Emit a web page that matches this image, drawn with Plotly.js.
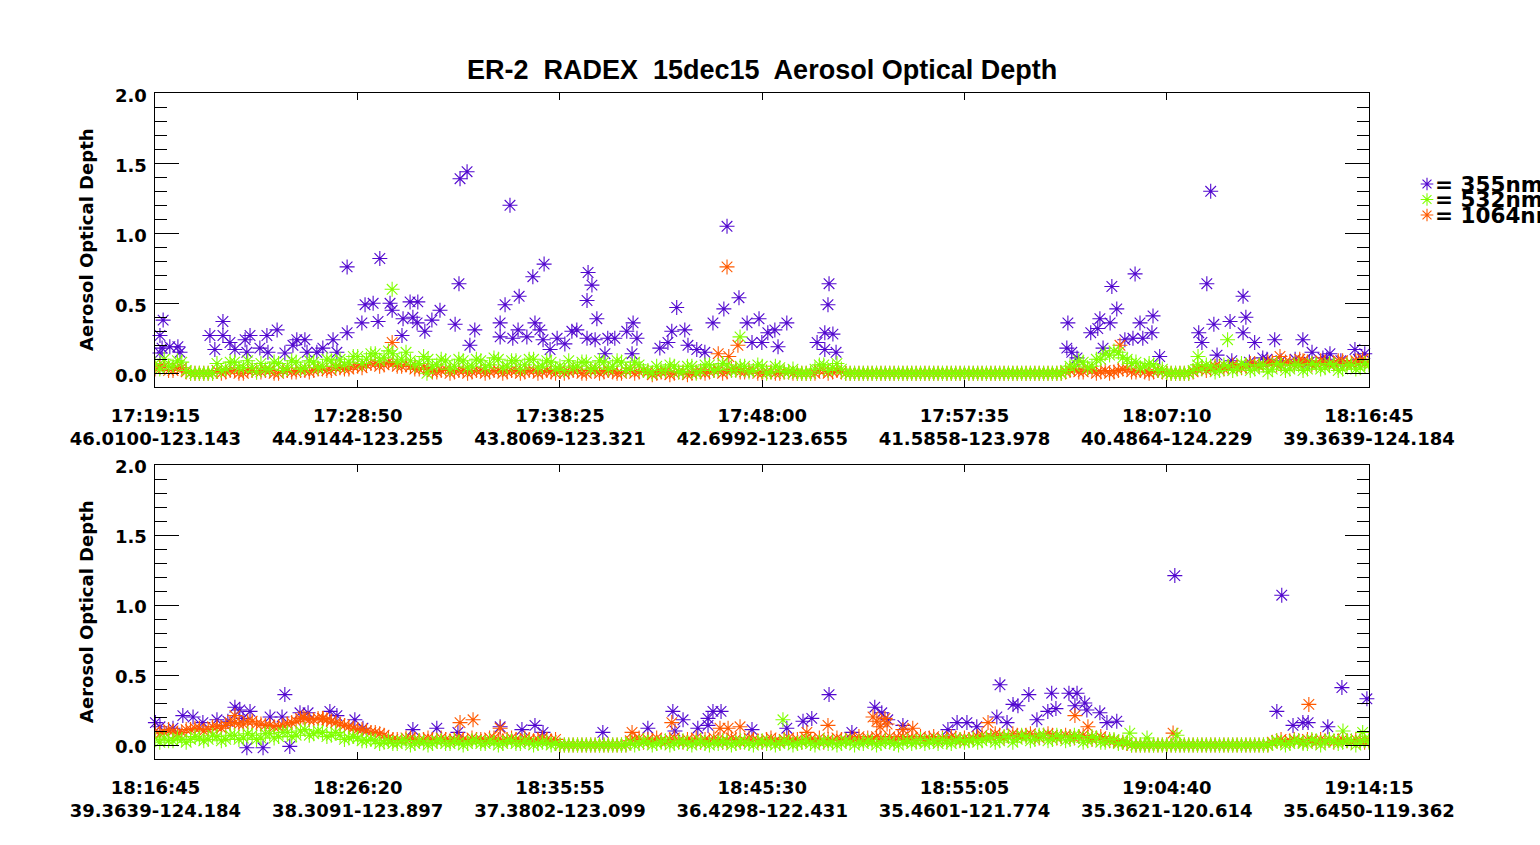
<!DOCTYPE html>
<html><head><meta charset="utf-8">
<script src="https://cdn.plot.ly/plotly-3.0.1.min.js"></script>
<style>html,body{margin:0;padding:0;background:#fff;overflow:hidden}</style>
</head><body><div id="chart" style="width:1540px;height:845px"></div>
<script>
// ---------------- DATA ----------------
// Panel spans: top 17:19:15 - 18:16:45, bottom 18:16:45 - 19:14:15 (3450 s each)
const PANEL_SPAN_S = 3450;
const TICK_STEP_S = 575;
const GRID_STEP_S = 12.5;   // sampling interval of the 532/1064 band series (s after panel start)

const timeTicksTop = ["17:19:15","17:28:50","17:38:25","17:48:00","17:57:35","18:07:10","18:16:45"];
const posTicksTop  = ["46.0100-123.143","44.9144-123.255","43.8069-123.321","42.6992-123.655","41.5858-123.978","40.4864-124.229","39.3639-124.184"];
const timeTicksBot = ["18:16:45","18:26:20","18:35:55","18:45:30","18:55:05","19:04:40","19:14:15"];
const posTicksBot  = ["39.3639-124.184","38.3091-123.897","37.3802-123.099","36.4298-122.431","35.4601-121.774","35.3621-120.614","35.6450-119.362"];
const yTickVals = [0, 0.5, 1.0, 1.5, 2.0];
const yTickText = ["0.0","0.5","1.0","1.5","2.0"];
const wavelengths = ["355nm","532nm","1064nm"];

// 532 nm AOD, top panel, one value every GRID_STEP_S seconds
const aod532Top = [
0.07,0.03,0.10,0.05,0.05,0.09,0.08,0.02,
0,0,0,0,0,0,
0.07,0.02,0.03,0.08,0.08,0.04,0.04,0.09,0.04,0.01,0.07,0.03,0.03,0.08,0.07,0.02,0.04,0.09,0.08,0.03,0.04,0.09,0.08,0.04,0.05,0.10,0.09,0.05,
0.10,0.06,0.08,0.12,0.12,0.07,0.10,0.14,0.14,0.09,0.11,0.16,0.14,0.08,0.10,0.15,0.09,0.06,0.07,0.12,
0.10,0.05,0.06,0.10,0.09,0.03,0.05,0.10,0.09,0.04,0.05,0.10,0.09,0.04,0.06,0.11,0.10,0.04,0.05,0.09,0.09,0.03,0.06,0.10,0.10,0.04,0.05,0.09,0.08,0.03,
0.05,0.02,0.09,0.04,0.05,0.08,0.08,0.03,0.04,0.09,0.08,0.03,0.05,0.09,0.08,0.02,0.04,0.08,0.06,0.02,
0.02,0.00,0.05,0.02,0.02,0.06,0.05,0.01,0.01,0.05,0.05,0.00,0.02,0.06,0.06,0.02,0.03,0.07,0.06,0.02,0.02,0.05,0.05,0.01,0.02,0.06,0.05,0.00,0.01,0.05,0.04,0.01,0.01,0.03,
0,0,0,0,
0.03,0.06,0.06,0.02,0.04,0.07,0.03,0.00,
0,0,0,0,0,0,0,0,0,0,0,0,0,0,0,0,0,0,0,0,0,0,0,0,0,0,0,0,0,0,0,0,0,0,0,0,0,0,0,0,0,0,0,0,0,0,0,0,0,
0.02,0.05,0.05,0.09,0.08,0.04,0.05,0.10,0.10,0.14,0.13,0.16,0.15,0.11,0.10,0.07,0.08,0.04,0.05,0.07,0.06,0.02,0.03,0.00,0.00,0.00,
0,0,0,0.02,0.06,
0.03,0.06,0.05,0.01,0.02,0.06,0.05,0.02,0.03,0.07,0.06,0.02,0.03,0.06,0.06,0.01,0.03,0.07,0.06,0.02,0.03,0.06,0.06,0.02,0.03,0.07,0.06,0.03,0.04,0.07,0.06,0.02,0.03,0.06,0.06,0.03,0.04,0.07,0.06];
// 1064 nm AOD, top panel
const aod1064Top = [
0.03,0.05,0.05,0.02,0.02,0.04,0.04,0.01,
0,0,0,0,0,0,
0.02,0.00,0.01,0.02,0.02,0.00,0.00,0.02,0.02,0.01,0.01,0.02,0.02,0.00,0.00,0.02,0.02,0.01,0.01,0.02,0.02,0.01,0.02,0.03,0.03,0.02,0.02,0.04,
0.04,0.03,0.03,0.05,0.05,0.04,0.06,0.07,0.07,0.05,0.06,0.08,0.07,0.05,0.05,0.06,0.05,0.03,0.03,0.04,
0.03,0.01,0.01,0.02,0.03,0.00,0.01,0.02,0.02,0.00,0.01,0.02,0.02,0.00,0.01,0.02,0.02,0.00,0.01,0.02,0.02,0.00,0.01,0.02,0.02,0.00,0.01,0.02,0.01,0.00,
0.02,0.00,0.01,0.02,0.02,0.00,0.00,0.02,0.02,0.00,0.01,0.02,0.01,0.00,0.00,0.02,0.02,0.00,0.01,0.02,
0.01,-0.01,0.00,0.01,0.01,-0.01,0.00,0.01,0.01,-0.01,0.00,0.01,0.01,0.00,0.01,0.02,0.02,0.00,0.01,0.03,0.03,0.01,0.01,0.02,0.02,0.00,0.00,0.01,0.01,0.00,0.00,0.01,0.01,0.00,
0,0,0,0,
0.00,0.02,0.02,0.00,0.01,0.02,0.01,0.00,
0,0,0,0,0,0,0,0,0,0,0,0,0,0,0,0,0,0,0,0,0,0,0,0,0,0,0,0,0,0,0,0,0,0,0,0,0,0,0,0,0,0,0,0,0,0,0,0,0,
0.01,0.02,0.03,0.01,0.01,0.03,0.02,0.00,0.01,0.02,0.00,0.01,0.02,0.03,0.03,0.01,0.01,0.02,0.01,0.00,0.01,0.02,0.01,0.00,0.00,0.00,
0,0,0,0.01,0.03,
0.04,0.02,0.03,0.05,0.05,0.03,0.04,0.06,0.05,0.04,0.05,0.07,0.07,0.05,0.06,0.08,0.08,0.06,0.06,0.08,0.08,0.06,0.07,0.09,0.08,0.06,0.07,0.09,0.08,0.06,0.07,0.09,0.09,0.07,0.07,0.09,0.08,0.07,0.08];
// 532 nm AOD, bottom panel
const aod532Bot = [
0.04,0.02,0.05,0.03,0.03,0.05,0.04,0.02,
0.04,0.06,0.05,0.03,0.04,0.07,0.06,0.03,0.04,0.07,0.07,0.04,0.05,0.08,0.07,0.04,
0.05,0.08,0.08,0.05,0.06,0.09,0.09,0.06,0.07,0.10,0.11,0.07,0.08,0.10,0.09,0.06,0.07,0.09,
0.07,0.04,0.05,0.06,0.05,0.03,0.03,0.04,0.03,0.01,0.02,
0.03,0.01,0.01,0.03,0.03,0.00,0.01,0.03,0.02,0.00,0.01,0.03,0.03,0.01,0.01,0.03,0.02,0.00,0.01,0.03,0.03,0.01,0.01,0.03,0.02,0.00,0.01,0.03,0.03,0.01,0.01,0.03,0.02,0.00,0.01,0.02,0.02,0.00,0.01,
0,0,0,0,0,0,0,0,0,0,0,0,0,0,0,0,
0.02,0.00,0.01,0.03,0.02,0.00, 0.01,0.02,0.03,0.00,0.01,0.02, 0.03,0.01,0.00,0.02,0.03,0.01, 0.00,0.02,0.01,0.03,0.02,0.00, 0.01,0.03,0.02,0.01,0.00,0.02, 0.03,0.01,0.02,0.00,0.01,0.03, 0.02,0.00,0.01,0.02,0.03,0.01, 0.00,0.02,0.03,0.01,0.02,0.00, 0.01,0.03,0.02,0.00,0.02,0.01, 0.03,0.02,0.00,0.01,0.03,0.02, 0.01,0.00,0.02,0.03,0.01,0.02, 0.04,0.01,0.02,0.03,0.01,0.04, 0.02,0.01,0.03,0.04,0.02,0.03,
0.04,0.02,0.03,0.05,0.05,0.02,0.03,0.06,0.06,0.02,0.04,0.07,0.06,0.03,0.04,0.07,0.07,0.03,0.04,0.07,0.06,0.03,0.04,0.07,0.06,0.02,0.03,0.06,0.05,0.02,0.02,0.04,0.04,0.01,0.02,0.02,
0,0,0,0,0,0,0,0,0,0,0,0,0,0,0,0,0,0,0,0,0,0,0,0,0,0,0,0,0,0,0,0,
0.01,0.03,0.02,0.00,0.01,0.03,0.03,0.01,0.01,0.04,0.03,0.00,0.02,0.04,0.03,0.01,0.02,0.03,0.03,0.00,0.02,0.04,0.02];
// 1064 nm AOD, bottom panel
const aod1064Bot = [
0.10,0.08,0.09,0.11,0.10,0.08,0.09,0.11,
0.11,0.12,0.12,0.10,0.11,0.13,0.13,0.12,0.14,0.16,0.16,0.15,0.15,0.17,0.17,0.15,
0.15,0.14,0.14,0.13,0.13,0.14,0.15,0.16,0.17,0.19,0.19,0.18,0.18,0.19,0.19,0.18,0.17,0.16,
0.15,0.14,0.13,0.12,0.11,0.11,0.10,0.09,0.09,0.08,0.07,
0.05,0.04,0.04,0.03,0.05,0.05,0.04,0.03,0.04,0.05,0.04,0.03,0.05,0.04,0.03,0.04,0.05,0.04,0.03,0.05,0.04,0.04,0.03,0.05,0.05,0.04,0.03,0.04,0.05,0.04,0.03,0.05,0.04,0.03,0.04,0.05,0.04,0.03,0.04,
0,0,0,0,0,0,0,0,0,0,0,0,0,0,0,0,
0.03,0.04,0.05,0.02,0.04,0.03, 0.05,0.03,0.02,0.04,0.05,0.03, 0.02,0.04,0.03,0.05,0.02,0.04, 0.03,0.05,0.04,0.02,0.03,0.05, 0.04,0.02,0.03,0.05,0.04,0.03, 0.02,0.04,0.05,0.03,0.02,0.04, 0.05,0.03,0.04,0.02,0.05,0.04, 0.03,0.05,0.02,0.04,0.03,0.05, 0.04,0.03,0.05,0.04,0.06,0.03, 0.05,0.04,0.06,0.05,0.03,0.06, 0.04,0.05,0.06,0.04,0.05,0.03, 0.06,0.04,0.05,0.06,0.03,0.05, 0.04,0.06,0.05,0.03,0.05,0.04,
0.05,0.06,0.07,0.05,0.06,0.08,0.07,0.05,0.06,0.08,0.07,0.06,0.07,0.08,0.06,0.05,0.07,0.08,0.07,0.05,0.06,0.07,0.06,0.05,0.06,0.07,0.05,0.04,0.05,0.06,0.04,0.03,0.03,0.02,0.02,0.01,
0,0,0,0,0,0,0,0,0,0,0,0,0,0,0,0,0,0,0,0,0,0,0,0,0,0,0,0,0,0,0,0,
0.02,0.03,0.04,0.02,0.03,0.04,0.03,0.02,0.04,0.03,0.02,0.04,0.03,0.04,0.02,0.03,0.04,0.03,0.02,0.04,0.03,0.02,0.03];

// Individual (off-grid) samples: time in seconds after panel start, AOD value
const t532TopExtra   = [673, 1662, 3048, 2964, 772];
const aod532TopExtra = [0.60, 0.26, 0.24, 0.12, 0.00];
const t1064TopExtra   = [1625, 1656, 1600, 1630, 673, 2742, 3197, 3253, 3432];
const aod1064TopExtra = [0.76, 0.20, 0.14, 0.12, 0.22, 0.20, 0.12, 0.10, 0.10];
const t532BotExtra   = [1784, 2770, 2819, 2904, 3376, 3432];
const aod532BotExtra = [0.18, 0.085, 0.05, 0.07, 0.10, 0.09];
const t1064BotExtra   = [226,420,477,866,903,980,1355,1468,1605,1628,1662,1852,1912,2040,2051,2060,2074,2080,2125,2153,2367,2614,2651,3279,2893];
const aod1064BotExtra = [0.21,0.20,0.19,0.16,0.18,0.12,0.09,0.16,0.12,0.12,0.13,0.09,0.14,0.20,0.17,0.13,0.19,0.15,0.11,0.12,0.16,0.21,0.13,0.29,0.085];

// 355 nm samples, top panel (s after 17:19:15)
const t355Top = [22,13,19,41,64,70,13,155,192,192,169,212,226,255,269,260,297,317,320,346,368,391,402,425,431,459,476,505,516,545,545,587,596,619,633,638,667,673,701,704,724,732,746,744,766,786,809,661,852,863,866,886,908,894,1008,994,1034,1073,1105,980,980,1016,1031,1056,1079,1093,1102,1122,1142,1164,1184,1198,1227,1230,1241,1227,1255,1250,1286,1306,1340,1358,1369,1355,1278,1434,1457,1468,1482,1505,1514,1539,1562,1585,1616,1659,1625,1682,1716,1741,1761,1795,1696,1724,1770,1915,1912,1903,1926,1881,1903,1935,2594,2591,2605,2620,2659,2679,2685,2714,2719,2733,2785,2799,2836,2833,2807,2779,2756,2694,2855,3000,2989,3092,3100,3055,3009,2966,2975,3092,3125,3182,3262,3018,3148,3288,3339,3319,3410,3438,3060,3110,3160,3200,3240,3280,3330,3370,3420];
const aod355Top = [0.38,0.27,0.18,0.19,0.19,0.15,0.145,0.27,0.37,0.27,0.17,0.22,0.17,0.24,0.27,0.15,0.18,0.27,0.15,0.31,0.145,0.20,0.24,0.24,0.15,0.15,0.18,0.24,0.15,0.29,0.76,0.36,0.49,0.50,0.37,0.82,0.50,0.45,0.27,0.39,0.51,0.40,0.51,0.36,0.30,0.38,0.45,2.04,0.35,0.64,1.39,1.44,0.31,0.20,1.20,0.49,0.55,0.69,0.78,0.36,0.26,0.25,0.31,0.26,0.36,0.31,0.24,0.17,0.25,0.21,0.30,0.31,0.25,0.72,0.63,0.52,0.39,0.24,0.25,0.25,0.30,0.36,0.25,0.14,0.14,0.18,0.22,0.30,0.47,0.31,0.20,0.17,0.15,0.36,0.46,0.54,1.05,0.36,0.39,0.29,0.31,0.36,0.22,0.22,0.19,0.64,0.49,0.29,0.28,0.22,0.17,0.15,0.36,0.18,0.15,0.11,0.29,0.32,0.39,0.36,0.62,0.46,0.71,0.36,0.41,0.29,0.25,0.25,0.24,0.18,0.12,1.30,0.64,0.55,0.40,0.37,0.35,0.29,0.22,0.29,0.22,0.24,0.24,0.13,0.11,0.15,0.14,0.11,0.17,0.14,0.09,0.08,0.10,0.09,0.10,0.08,0.10,0.09,0.10];
// 355 nm samples, bottom panel (s after 18:16:45)
const t355Bot = [368,226,78,107,175,206,240,269,249,326,360,411,434,496,516,567,13,0,50,135,590,732,800,980,1079,1042,1102,860,260,306,382,1272,1400,1471,1500,1477,1542,1571,1585,1608,1571,1696,1915,1795,1841,1866,1980,2045,2065,2082,2125,2253,2279,2307,2335,2401,2483,2548,2597,2620,2438,2452,2560,2642,2648,2685,2614,2537,2392,2506,2421,2733,2705,2898,3202,3373,3444,3188,3234,3262,3277,3333];
const aod355Bot = [0.36,0.27,0.21,0.20,0.18,0.17,0.25,0.24,0.19,0.20,0.20,0.23,0.23,0.24,0.21,0.18,0.13,0.16,0.12,0.16,0.12,0.11,0.12,0.13,0.14,0.11,0.09,0.09,-0.02,-0.02,-0.01,0.09,0.12,0.24,0.18,0.10,0.12,0.19,0.24,0.24,0.14,0.11,0.36,0.12,0.17,0.19,0.09,0.27,0.23,0.18,0.14,0.11,0.16,0.16,0.13,0.43,0.36,0.37,0.37,0.37,0.29,0.28,0.26,0.30,0.25,0.23,0.28,0.24,0.20,0.18,0.16,0.17,0.16,1.21,1.07,0.41,0.33,0.24,0.14,0.16,0.16,0.13];

// ---------------- STYLE ----------------
const C355 = '#5208cf', C532 = '#80ff00', C1064 = '#ff5a00';
const W = 1540, H = 845;
const px = x => x / W, py = y => 1 - y / H;
const tickFont = {family: 'DejaVu Sans', size: 18, color: '#000', weight: 'bold'};

function gridTimes(vals) { return vals.map((_, i) => i * GRID_STEP_S); }
function mk(x, y, color, xa, ya, name, clip) {
  return {type: 'scatter', mode: 'markers', x: x, y: y, xaxis: xa, yaxis: ya, name: name,
    showlegend: false, hoverinfo: 'skip', cliponaxis: clip,
    marker: {symbol: 'asterisk-open', size: 12.5, color: color, line: {width: 1.1, color: color}}};
}

const traces = [
  mk(t355Top, aod355Top, C355, 'x', 'y', '355nm', false),
  mk(gridTimes(aod1064Top).concat(t1064TopExtra), aod1064Top.concat(aod1064TopExtra), C1064, 'x', 'y', '1064nm', true),
  mk(gridTimes(aod532Top).concat(t532TopExtra), aod532Top.concat(aod532TopExtra), C532, 'x', 'y', '532nm', true),
  mk(t355Bot, aod355Bot, C355, 'x2', 'y2', '355nm', false),
  mk(gridTimes(aod1064Bot).concat(t1064BotExtra), aod1064Bot.concat(aod1064BotExtra), C1064, 'x2', 'y2', '1064nm', true),
  mk(gridTimes(aod532Bot).concat(t532BotExtra), aod532Bot.concat(aod532BotExtra), C532, 'x2', 'y2', '532nm', true),
];
// legend glyphs
const legendColors = [C355, C532, C1064];
wavelengths.forEach((w, k) => {
  const t = mk([0], [w], legendColors[k], 'x3', 'y3', w, false);
  t.marker.size = 10.5;
  traces.push(t);
});

const tickVals = timeTicksTop.map((_, i) => i * TICK_STEP_S);
const xDomain = [px(155.4), px(1369)];
function xAxis(times, pos, anchor) {
  return {domain: xDomain, anchor: anchor, range: [0, PANEL_SPAN_S], tickmode: 'array', tickvals: tickVals,
    ticktext: times.map((t, i) => t + '<br>' + pos[i]),
    ticks: 'inside', ticklen: 7, tickwidth: 1, tickcolor: '#000', showline: true, linecolor: '#000', linewidth: 1,
    mirror: 'ticks', showgrid: false, zeroline: false, tickfont: tickFont, ticklabelstandoff: 12, fixedrange: true};
}
function yAxis(domain, anchor) {
  return {domain: domain, anchor: anchor, range: [-0.1, 2.0], tickmode: 'array', tickvals: yTickVals, ticktext: yTickText,
    ticks: 'inside', ticklen: 24, tickwidth: 1, tickcolor: '#000', showline: true, linecolor: '#000', linewidth: 1,
    mirror: 'ticks', showgrid: false, zeroline: false, tickfont: tickFont, ticklabelstandoff: 4, ticklabelshift: 2,
    minor: {tickmode: 'linear', tick0: 0, dtick: 0.1, ticks: 'inside', ticklen: 12, tickwidth: 1, tickcolor: '#000', showgrid: false},
    fixedrange: true};
}

const layout = {
  width: W, height: H, margin: {l: 0, r: 0, t: 0, b: 0}, paper_bgcolor: '#fff', plot_bgcolor: '#fff',
  showlegend: false,
  xaxis: xAxis(timeTicksTop, posTicksTop, 'y'),
  yaxis: yAxis([py(387.3), py(93.3)], 'x'),
  xaxis2: xAxis(timeTicksBot, posTicksBot, 'y2'),
  yaxis2: yAxis([py(759), py(465)], 'x2'),
  xaxis3: {domain: [px(1420), px(1434)], range: [-1, 1], visible: false, anchor: 'y3', fixedrange: true},
  yaxis3: {domain: [py(222.75), py(176.25)], type: 'category', categoryorder: 'array',
    categoryarray: wavelengths.slice().reverse(), range: [-0.5, 2.5], visible: false, anchor: 'x3', fixedrange: true},
  annotations: [
    {text: 'ER-2\u00a0 RADEX\u00a0 15dec15\u00a0 Aerosol Optical Depth', xref: 'paper', yref: 'paper',
     x: px(762), y: py(70), xanchor: 'center', yanchor: 'middle', showarrow: false,
     font: {family: 'Liberation Sans', size: 27, color: '#000', weight: 'bold'}},
    {text: 'Aerosol Optical Depth', textangle: -90, xref: 'paper', yref: 'paper', x: px(86), y: py(240),
     xanchor: 'center', yanchor: 'middle', showarrow: false, font: tickFont},
    {text: 'Aerosol Optical Depth', textangle: -90, xref: 'paper', yref: 'paper', x: px(86), y: py(612),
     xanchor: 'center', yanchor: 'middle', showarrow: false, font: tickFont},
  ].concat(wavelengths.map((w, k) => ({
    text: '= ' + w, xref: 'paper', yref: 'y3', x: px(1433), y: wavelengths.length - 1 - k,
    xanchor: 'left', yanchor: 'middle', showarrow: false,
    font: {family: 'DejaVu Sans', size: 21.5, color: '#000', weight: 'bold'}})))
};

Plotly.newPlot('chart', traces, layout, {staticPlot: true, displayModeBar: false});
</script></body></html>
